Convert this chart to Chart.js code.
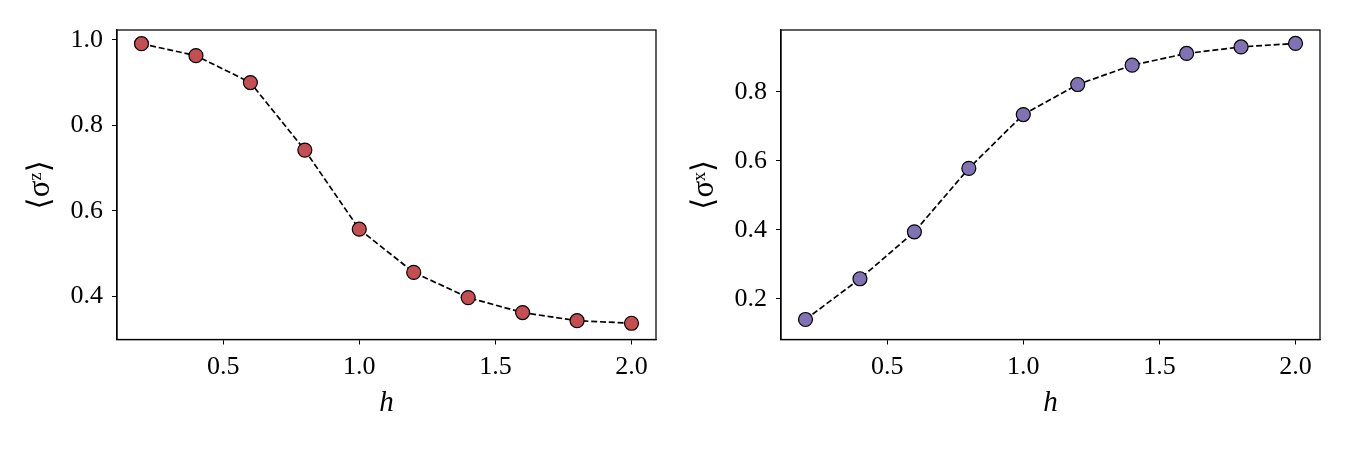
<!DOCTYPE html>
<html><head><meta charset="utf-8">
<script src="https://cdn.jsdelivr.net/npm/chart.js@4.4.1/dist/chart.umd.min.js"></script>
<style>
html,body{margin:0;padding:0;background:#fff;width:1350px;height:450px;overflow:hidden}
.c{position:absolute;top:0;width:675px;height:450px}
</style></head><body>
<div class="c" style="left:0"><canvas id="left" width="675" height="450"></canvas></div>
<div class="c" style="left:675px"><canvas id="right" width="675" height="450"></canvas></div>
<script>
// ---- data ----
const hValues = [0.2, 0.4, 0.6, 0.8, 1.0, 1.2, 1.4, 1.6, 1.8, 2.0];
const sigmaZ  = [0.991, 0.963, 0.900, 0.742, 0.557, 0.456, 0.397, 0.362, 0.343, 0.337];
const sigmaX  = [0.140, 0.258, 0.394, 0.578, 0.734, 0.821, 0.877, 0.911, 0.930, 0.940];
const hTicks  = [0.5, 1.0, 1.5, 2.0];
const zTicks  = [0.4, 0.6, 0.8, 1.0];
const xTicks  = [0.2, 0.4, 0.6, 0.8];
const hLabel  = 'h';
const zLabel  = '⟨σᶻ⟩';
const xLabel  = '⟨σˣ⟩';

const FONT = "'Liberation Serif', 'DejaVu Serif', serif";

const framePlugin = {
  id: 'frame',
  afterDatasetsDraw(chart) {
    const a = chart.chartArea, ctx = chart.ctx;
    ctx.save();
    ctx.strokeStyle = '#000';
    ctx.lineWidth = 1.25;
    ctx.strokeRect(a.left, a.top, a.right - a.left, a.bottom - a.top);
    ctx.restore();
  }
};

function makeChart(id, ys, yTicks, yRange, yTitle, color, yWidth, padRight, titlePadLeft) {
  const data = hValues.map((h, i) => ({x: h, y: ys[i]}));
  return new Chart(document.getElementById(id), {
    type: 'line',
    data: { datasets: [{
      data,
      borderColor: '#000',
      borderWidth: 1.7,
      borderDash: [6, 2.8],
      pointRadius: 7,
      pointHoverRadius: 7,
      pointBackgroundColor: color,
      pointBorderColor: '#000',
      pointBorderWidth: 1.2,
      fill: false,
      tension: 0
    }]},
    options: {
      responsive: false,
      devicePixelRatio: 1,
      animation: false,
      layout: { padding: { top: 30, right: padRight, left: 0, bottom: 0 } },
      plugins: { legend: { display: false }, tooltip: { enabled: false } },
      scales: {
        x: {
          type: 'linear',
          min: 0.11, max: 2.09,
          afterBuildTicks: s => { s.ticks = hTicks.map(v => ({value: v})); },
          afterFit: s => { s.height = 110.5; },
          grid: { drawOnChartArea: false, drawTicks: true, tickLength: 5, color: '#000', lineWidth: 1 },
          border: { display: true, color: '#000', width: 1.25 },
          ticks: { color: '#000', padding: 7, maxRotation: 0, font: { family: FONT, size: 26 },
                   callback: v => Number(v).toFixed(1) },
          title: { display: true, text: hLabel, color: '#000',
                   font: { family: FONT, size: 29, style: 'italic' }, padding: { top: 0, bottom: 29 } }
        },
        y: {
          type: 'linear',
          min: yRange[0], max: yRange[1],
          afterBuildTicks: s => { s.ticks = yTicks.map(v => ({value: v})); },
          afterFit: s => { s.width = yWidth; },
          grid: { drawOnChartArea: false, drawTicks: true, tickLength: 5, color: '#000', lineWidth: 1 },
          border: { display: true, color: '#000', width: 1.25 },
          ticks: { color: '#000', padding: 9, font: { family: FONT, size: 26 },
                   callback: v => Number(v).toFixed(1) },
          title: { display: true, text: yTitle, color: '#000',
                   font: { family: FONT, size: 31 }, padding: { top: titlePadLeft, bottom: 0 } }
        }
      }
    },
    plugins: [framePlugin]
  });
}

makeChart('left',  sigmaZ, zTicks, [0.299, 1.023], zLabel, '#c44e52', 117, 19, 22);
makeChart('right', sigmaX, xTicks, [0.082, 0.979], xLabel, '#8172b3', 106, 30, 11);
</script>
</body></html>
